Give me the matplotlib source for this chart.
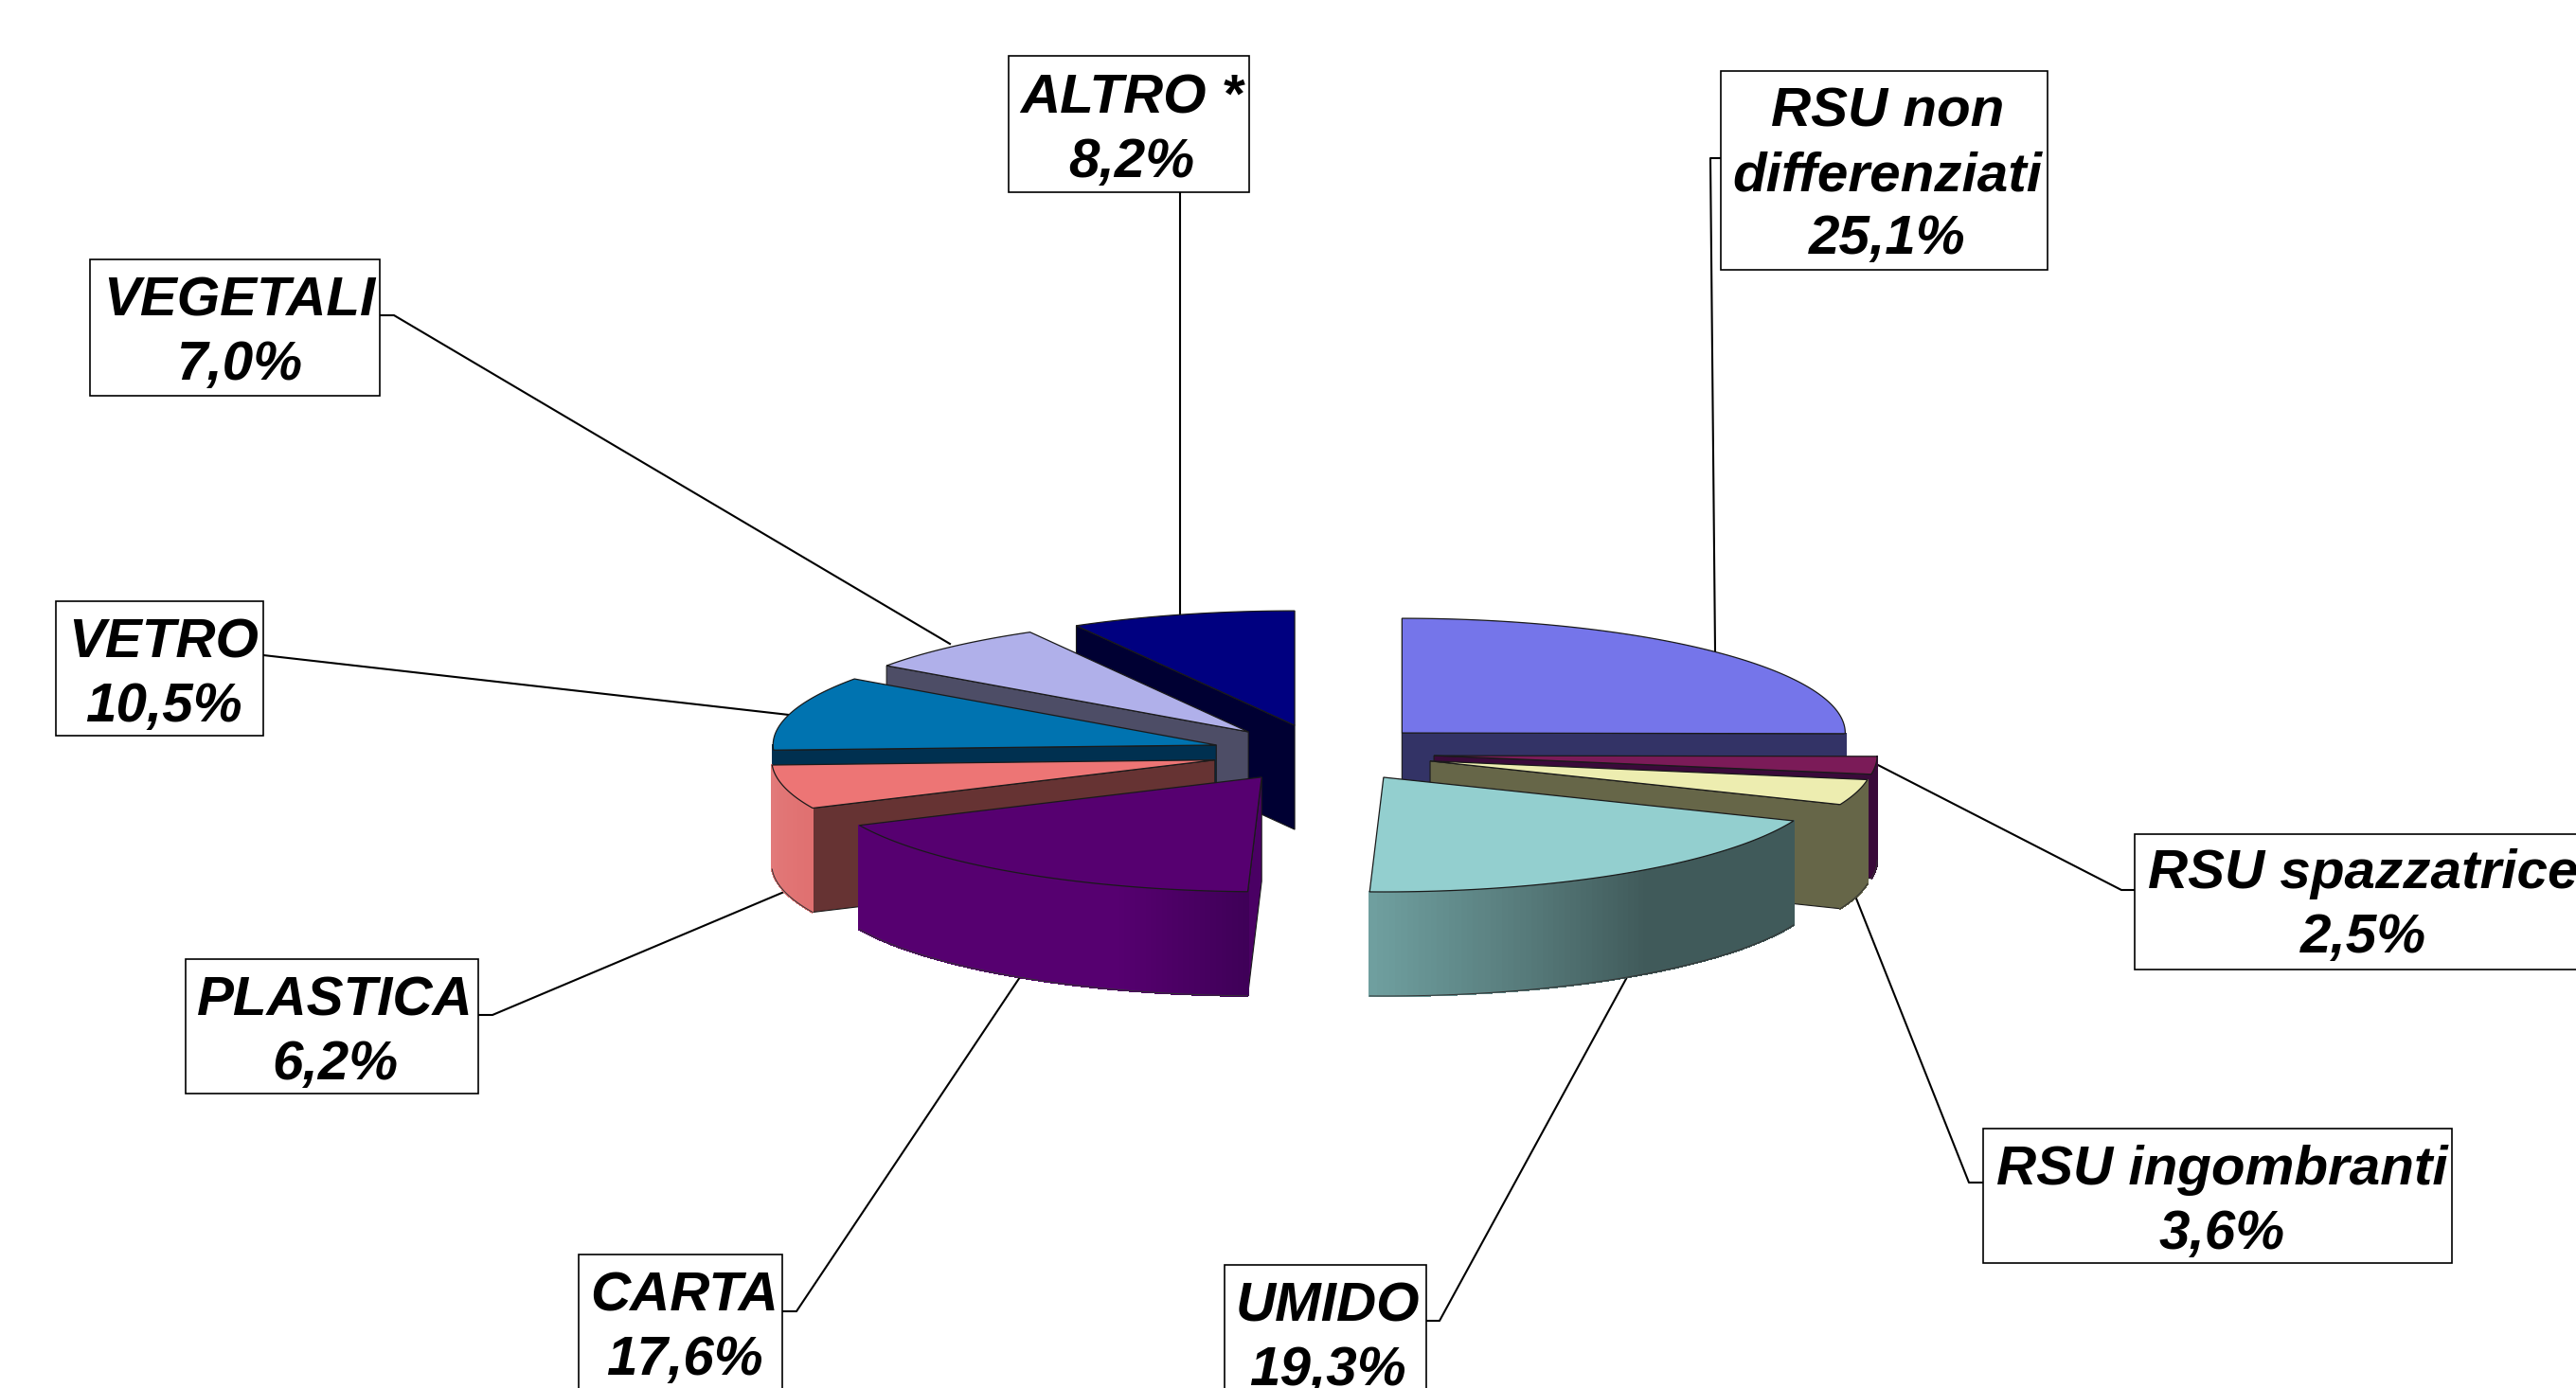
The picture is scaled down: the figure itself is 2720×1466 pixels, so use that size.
import numpy as np
import matplotlib
matplotlib.use('Agg')
import matplotlib.pyplot as plt
from matplotlib.colors import to_rgb
from matplotlib.patches import Polygon, Rectangle

# data
names = ['RSU non\ndifferenziati', 'RSU spazzatrice', 'RSU ingombranti', 'UMIDO',
         'CARTA', 'PLASTICA', 'VETRO', 'VEGETALI', 'ALTRO *']
shares = [25.1, 2.5, 3.6, 19.3, 17.6, 6.2, 10.5, 7.0, 8.2]

# colours
top_colors = ['#7575ea', '#7b1b58', '#ededb0', '#93cfcf', '#560070',
              '#ed7575', '#0073b0', '#b0b0ea', '#000080']
side_colors = ['#333366', '#3a0a3a', '#666648', '#405a5a', '#4a0064',
               '#663333', '#003050', '#4d4d66', '#000033']
# rim shading, slice index -> angles and colours
rim_shading = {
    1: ([90, 100], ['#3a0a3a', '#3a0a3a']),
    2: ([99, 113], ['#666648', '#666648']),
    3: ([112, 144, 182], ['#405a5a', '#405a5a', '#70a0a0']),
    4: ([182, 199, 246], ['#3f0058', '#560070', '#560070']),
    5: ([245, 268], ['#e07070', '#e27a7a']),
}

# pie geometry, in pixels
cx, cy = 1397, 795.5
rx, ry = 468, 121
depth = 110
explode = 117.5
draw_order = [8, 7, 6, 5, 4, 0, 1, 2, 3]

# label boxes: left, top, right, bottom
boxes = [(1817, 75, 2162, 285), (2254, 881, 2740, 1024), (2094, 1192, 2589, 1334),
         (1293, 1336, 1506, 1520), (611, 1325, 826, 1510), (196, 1013, 505, 1155),
         (59, 635, 278, 777), (95, 274, 401, 418), (1065, 59, 1319, 203)]
# text centre of every label
label_x = [1993, 2495, 2346, 1402, 723, 354, 173, 253, 1195]
label_y = [186, 957, 1270, 1414, 1403, 1091, 713, 352, 138]
# leader lines
leaders = [
    [(1817, 167), (1806, 167), (1811, 688)],
    [(2254, 940), (2240, 940), (1981, 807)],
    [(2094, 1249), (2079, 1249), (1960, 949)],
    [(1506, 1395), (1520, 1395), (1718, 1032)],
    [(826, 1385), (841, 1385), (1077, 1032)],
    [(505, 1072), (520, 1072), (828, 942)],
    [(278, 692), (833, 755)],
    [(401, 333), (416, 333), (1003, 680)],
    [(1246, 203), (1246, 650)],
]

fig = plt.figure(figsize=(27.2, 14.66), dpi=100)
ax = fig.add_axes([0, 0, 1, 1])
ax.set_xlim(0, 2720)
ax.set_ylim(1466, 0)
ax.axis('off')

for line in leaders:
    xs, ys = zip(*line)
    ax.plot(xs, ys, color='black', lw=1.5, zorder=1)

edges = np.cumsum([0] + shares) * 3.6

for i in draw_order:
    a0, a1 = edges[i], edges[i + 1]
    mid = np.radians((a0 + a1) / 2)
    ax0 = cx + explode * np.sin(mid)
    ay0 = cy - explode * ry / rx * np.cos(mid)

    t = np.radians(np.linspace(a0, a1, 120))
    arc_x = ax0 + rx * np.sin(t)
    arc_y = ay0 - ry * np.cos(t)
    z = 2 + draw_order.index(i) * 0.1

    # cut faces of the slice that look at the viewer
    for a, visible in [(a0, a0 > 180), (a1, a1 < 180)]:
        if visible:
            x1 = ax0 + rx * np.sin(np.radians(a))
            y1 = ay0 - ry * np.cos(np.radians(a))
            ax.add_patch(Polygon([(ax0, ay0), (x1, y1), (x1, y1 + depth), (ax0, ay0 + depth)],
                                 fc=side_colors[i], ec='#1a1a1a', lw=0.8, zorder=z))

    # outer rim, only the near half of the circle shows
    r0, r1 = max(a0, 90), min(a1, 270)
    if r1 > r0:
        stops, cols = rim_shading.get(i, ([r0, r1], [side_colors[i], side_colors[i]]))
        rgb = np.array([to_rgb(c) for c in cols])
        ang = np.linspace(r0, r1, 90)
        for b0, b1 in zip(ang[:-1], ang[1:]):
            m = (b0 + b1) / 2
            col = [np.interp(m, stops, rgb[:, k]) for k in range(3)]
            s = np.radians([b0, b1])
            qx = ax0 + rx * np.sin(s)
            qy = ay0 - ry * np.cos(s)
            ax.add_patch(Polygon([(qx[0], qy[0]), (qx[1], qy[1]),
                                  (qx[1], qy[1] + depth), (qx[0], qy[0] + depth)],
                                 fc=col, ec=col, lw=1, antialiased=False, zorder=z))
        s = np.radians(np.linspace(r0, r1, 90))
        ax.plot(ax0 + rx * np.sin(s), ay0 - ry * np.cos(s) + depth,
                color='#333333', lw=0.7, zorder=z)

    # top face
    ax.add_patch(Polygon(np.column_stack([np.r_[ax0, arc_x], np.r_[ay0, arc_y]]),
                         fc=top_colors[i], ec='#1a1a1a', lw=0.9, zorder=z + 0.05))

# labels
for i, name in enumerate(names):
    l, t, r, b = boxes[i]
    ax.add_patch(Rectangle((l, t), r - l, b - t, fc='white', ec='black', lw=1.2, zorder=5))
    pct = ('%.1f%%' % shares[i]).replace('.', ',')
    ax.text(label_x[i], label_y[i], name + '\n' + pct, ha='center', va='center',
            multialignment='center', family='Liberation Sans', weight='bold', style='italic',
            fontsize=42, linespacing=1.32, zorder=6)

fig.savefig('out.png', dpi=100, facecolor='white')
